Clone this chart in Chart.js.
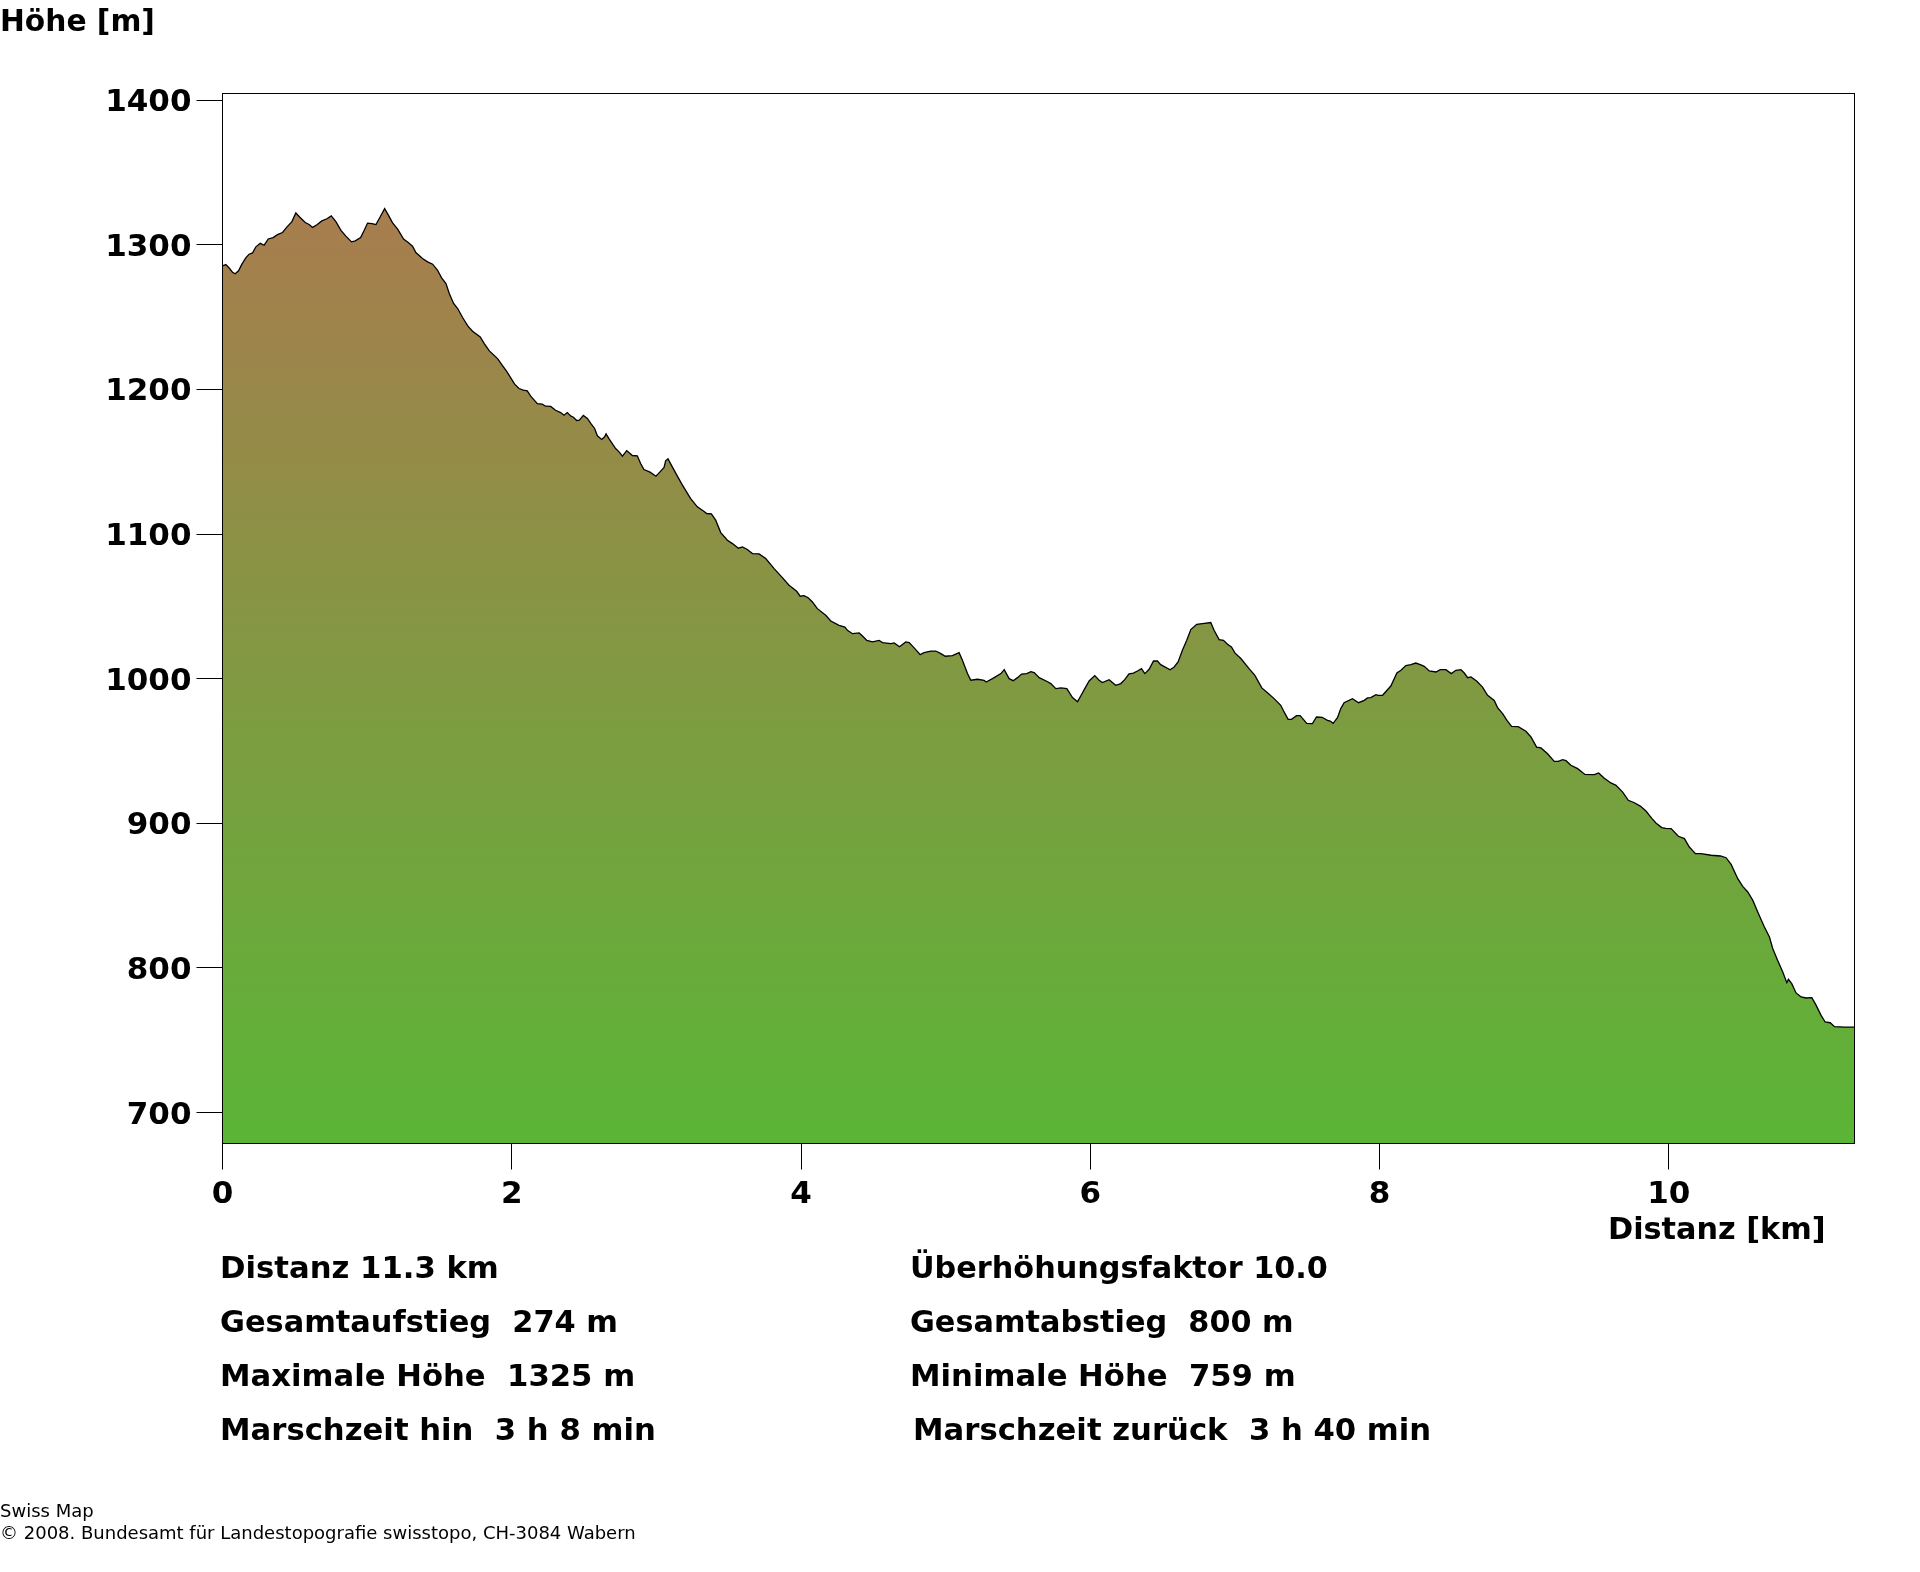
<!DOCTYPE html>
<html>
<head>
<meta charset="utf-8">
<script src="https://cdn.jsdelivr.net/npm/chart.js@4"></script>
<style>
body { margin: 0; background: #fff; }
#wrap { position: relative; width: 1920px; height: 1572px; overflow: hidden; }
#wrap canvas { position: absolute; left: 0; top: 0; }
.t { position: absolute; white-space: pre; color: #000; font-family: "DejaVu Sans", sans-serif; font-weight: bold; font-size: 30.7px; line-height: 36px; }
.klein { font-weight: normal; font-size: 18px; line-height: 22px; }
</style>
</head>
<body>
<div id="wrap">
<canvas id="profil" width="1920" height="1572"></canvas>
<div class="t" style="left:0;top:3px;font-size:29.7px">Höhe [m]</div>
<div class="t" style="left:1608px;top:1211px;font-size:30.3px">Distanz [km]</div>
<div class="t" style="left:220px;top:1250px">Distanz 11.3 km</div>
<div class="t" style="left:220px;top:1304px;font-size:30.4px">Gesamtaufstieg  274 m</div>
<div class="t" style="left:220px;top:1358px">Maximale Höhe  1325 m</div>
<div class="t" style="left:220px;top:1412px">Marschzeit hin  3 h 8 min</div>
<div class="t" style="left:910px;top:1250px;font-size:30.3px">Überhöhungsfaktor 10.0</div>
<div class="t" style="left:910px;top:1304px;font-size:30.3px">Gesamtabstieg  800 m</div>
<div class="t" style="left:910px;top:1358px">Minimale Höhe  759 m</div>
<div class="t" style="left:913px;top:1412px">Marschzeit zurück  3 h 40 min</div>
<div class="t klein" style="left:0;top:1500px">Swiss Map</div>
<div class="t klein" style="left:0;top:1522px">© 2008. Bundesamt für Landestopografie swisstopo, CH-3084 Wabern</div>
</div>
<script>
// Profile
const distanzKm = [
  0, .023, .046, .069, .088, .111, .134, .161, .184, .208,
  .231, .261, .288, .316, .35, .38, .415, .443, .48, .507,
  .535, .572, .599, .623, .653, .687, .722, .752, .784, .819,
  .853, .892, .918, .955, .98, 1.003, 1.033, 1.061, 1.088, 1.121,
  1.146, 1.176, 1.211, 1.252, 1.282, 1.314, 1.337, 1.383, 1.418, 1.453,
  1.487, 1.515, 1.545, 1.568, 1.598, 1.626, 1.66, 1.697, 1.729, 1.782,
  1.81, 1.845, 1.902, 1.937,
  1.964, 1.992, 2.02, 2.05, 2.08, 2.107, 2.131, 2.177, 2.211, 2.234,
  2.269, 2.303, 2.338, 2.361, 2.384, 2.407, 2.426, 2.449, 2.467, 2.495,
  2.523, 2.55, 2.573, 2.592, 2.622, 2.642, 2.652, 2.672, 2.718, 2.742,
  2.765, 2.795, 2.834, 2.868, 2.891, 2.914, 2.956, 2.997, 3.025, 3.053,
  3.064, 3.08, 3.11, 3.145, 3.18, 3.237, 3.283, 3.33, 3.348, 3.38,
  3.41, 3.445, 3.491, 3.526, 3.567, 3.595, 3.629, 3.664, 3.71, 3.756,
  3.814, 3.871, 3.917,
  3.97, 3.994, 4.021, 4.049, 4.079, 4.113, 4.171, 4.206, 4.263, 4.303,
  4.321, 4.356, 4.402, 4.432, 4.455, 4.494, 4.54, 4.563, 4.621, 4.644,
  4.681, 4.724, 4.748, 4.787, 4.824, 4.851, 4.897, 4.932, 4.967, 4.997,
  5.047, 5.093, 5.116, 5.151, 5.174, 5.22, 5.266, 5.28, 5.324, 5.382,
  5.405, 5.439, 5.467, 5.497, 5.525, 5.561, 5.589, 5.612, 5.647, 5.705,
  5.727, 5.762, 5.797, 5.838, 5.877, 5.912,
  5.934, 5.962, 5.992, 6.031, 6.061, 6.084, 6.13, 6.176, 6.211, 6.238,
  6.268, 6.298, 6.326, 6.354, 6.377, 6.407, 6.437, 6.464, 6.487, 6.552,
  6.58, 6.607, 6.637, 6.667, 6.695, 6.736, 6.776, 6.833, 6.856, 6.891,
  6.921, 6.949, 6.976, 7, 7.041, 7.098, 7.138, 7.186, 7.225, 7.271,
  7.317, 7.34, 7.368, 7.391, 7.426, 7.451, 7.497, 7.536, 7.564, 7.603,
  7.64, 7.659, 7.679, 7.709, 7.732, 7.755, 7.813, 7.855, 7.894, 7.917,
  7.94, 7.975, 7.991, 8.021, 8.078, 8.12, 8.148, 8.182, 8.217, 8.251,
  8.286, 8.309, 8.344, 8.39, 8.42, 8.459, 8.496, 8.528, 8.563, 8.586,
  8.609, 8.632, 8.673, 8.712, 8.747, 8.793, 8.816, 8.851, 8.881, 8.913,
  8.959, 9.012, 9.047, 9.086, 9.116, 9.162, 9.208, 9.236, 9.266, 9.289,
  9.323, 9.37, 9.42, 9.485, 9.515, 9.554, 9.6, 9.635, 9.681, 9.72,
  9.762, 9.803, 9.842, 9.884, 9.911, 9.951, 9.98, 10.016,
  10.066, 10.108, 10.142, 10.184, 10.223, 10.292, 10.357, 10.396, 10.431, 10.477,
  10.511, 10.546, 10.581, 10.615, 10.661, 10.696, 10.719, 10.753, 10.788, 10.816,
  10.827, 10.85, 10.88, 10.915, 10.949, 10.989, 11.019, 11.053, 11.081, 11.116,
  11.146, 11.215, 11.284
];
const hoeheM = [
  1285.4, 1286.3, 1284, 1281, 1280, 1282, 1286.6, 1291, 1293.5, 1294.4,
  1298.6, 1301, 1299.7, 1304, 1305, 1307, 1308.5, 1312, 1316, 1322,
  1319, 1315.4, 1314, 1312, 1313.8, 1316.5, 1318, 1320, 1316, 1310,
  1306, 1302, 1302.7, 1305, 1310, 1315, 1314.7, 1314, 1318.9, 1325,
  1320.7, 1315.2, 1310.8, 1303.9, 1301.8, 1299, 1294.6, 1290.5, 1288.2, 1286.6,
  1282.4, 1277.1, 1273.2, 1266.3, 1259.4, 1255.9, 1249.7, 1243.7, 1240.2, 1236.3,
  1231.7, 1226.6, 1221.3, 1216.3,
  1212.6, 1208.2, 1203.6, 1200.6, 1199.5, 1199, 1195.3, 1190.2, 1189.8, 1188.4,
  1188.2, 1185.6, 1184, 1182.2, 1184, 1181.7, 1180.8, 1178.5, 1178.7, 1182,
  1179.9, 1176, 1173, 1167.9, 1165.4, 1167.2, 1169.3, 1166, 1159.1, 1156.8,
  1153.8, 1157.7, 1154.3, 1154.1, 1148.8, 1144.6, 1142.8, 1140, 1143, 1146,
  1150.6, 1152, 1146.4, 1140, 1133.8, 1124.5, 1118.8, 1115.6, 1114.2, 1113.9,
  1109.6, 1101, 1095.7, 1093.4, 1090.2, 1091.1, 1089.3, 1086.5, 1086.3, 1083.1,
  1076.1, 1069.9, 1064.6,
  1060.4, 1057, 1057.4, 1056, 1053, 1048.4, 1043.8, 1039.9, 1036.9, 1035.7,
  1033.4, 1031.1, 1031.6, 1028.8, 1026.5, 1025.4, 1026.5, 1024.9, 1024.2, 1024.7,
  1022.1, 1025.4, 1024.9, 1020.8, 1016.6, 1018, 1019.1, 1019.1, 1017.3, 1015.5,
  1015.9, 1018, 1012.7, 1003.5, 998.9, 999.6, 998.9, 997.7, 1000, 1003.5,
  1006.2, 1000, 998.6, 1000.7, 1003.2, 1003.5, 1004.9, 1004.2, 1000.7, 997.9,
  996.6, 993.1, 993.6, 993.1, 986.9, 984.1,
  988, 993.1, 998.4, 1002.1, 998.9, 997.3, 999.3, 995.4, 996.6, 999.3,
  1003.3, 1003.9, 1005.3, 1006.9, 1003.5, 1006.5, 1012.2, 1012.2, 1009.7, 1006.2,
  1008.1, 1011.6, 1019.6, 1026.5, 1033.9, 1037.6, 1038.1, 1038.8, 1033.5, 1027,
  1026.5, 1023.8, 1021.9, 1017.8, 1013.9, 1006.9, 1002.3, 993.6, 990.3, 986.2,
  981.6, 977, 971.9, 971.9, 974.4, 974.4, 969.1, 968.9, 973.5, 973.3,
  971.2, 970.7, 969.1, 973, 979.3, 983.4, 986.2, 983.4, 985, 986.7,
  986.9, 988.9, 988.5, 988.5, 994.9, 1003.9, 1005.8, 1009, 1009.7, 1010.8,
  1009.5, 1008.5, 1005.3, 1004.6, 1006.2, 1006.2, 1003.5, 1005.8, 1006.2, 1003.9,
  1000.7, 1001.2, 998.2, 994.2, 988.5, 985, 980, 975.8, 971.2, 967,
  966.8, 963.6, 959.7, 952.7, 952.1, 948.1, 942.8, 942.8, 944, 943.3,
  940.1, 937.8, 933.8, 933.6, 934.8, 931.1, 927.9, 926.2, 921.6, 915.9,
  914.2, 911.9, 908.5, 903.2, 900.2, 897, 896.5, 896.3,
  891, 889.4, 883.6, 879, 879, 877.9, 877.4, 876.2, 871.6, 861.7,
  856.4, 852.5, 846.7, 838.7, 828.3, 821.4, 813.3, 805.2, 797.2, 789.8,
  792.1, 789.1, 782.7, 779.9, 779.2, 779.4, 774.1, 767.2, 762.6, 762.1,
  759.4, 759.1, 759
];
const distanzTicks = [0, 2, 4, 6, 8, 10];
const hoeheTicks = [700, 800, 900, 1000, 1100, 1200, 1300, 1400];

const farbeOben = '#a87d4e';
const farbeUnten = '#5ab536';
const tickFont = { family: 'DejaVu Sans', weight: 'bold', size: 31 };

// top and right edges of the frame are not axes, so draw the box by hand
const rahmen = {
  id: 'rahmen',
  afterDraw(chart) {
    const a = chart.chartArea, c = chart.ctx;
    c.save();
    c.strokeStyle = '#000';
    c.lineWidth = 1;
    c.strokeRect(a.left, a.top, a.right - a.left, a.bottom - a.top);
    c.restore();
  }
};

new Chart(document.getElementById('profil').getContext('2d'), {
  type: 'line',
  plugins: [rahmen],
  data: {
    datasets: [{
      label: 'Höhe',
      data: distanzKm.map((km, i) => ({ x: km, y: hoeheM[i] })),
      borderColor: '#000',
      borderWidth: 1.3,
      pointRadius: 0,
      tension: 0,
      fill: 'start',
      backgroundColor: (ctx) => {
        const a = ctx.chart.chartArea;
        if (!a) return farbeUnten;
        const yTop = ctx.chart.scales.y.getPixelForValue(1325);
        const g = ctx.chart.ctx.createLinearGradient(0, yTop, 0, a.bottom);
        g.addColorStop(0, farbeOben);
        g.addColorStop(1, farbeUnten);
        return g;
      }
    }]
  },
  options: {
    responsive: false,
    animation: false,
    devicePixelRatio: 1,
    layout: { padding: { top: 93.5, right: 65.5, left: 0, bottom: 0 } },
    plugins: { legend: { display: false }, tooltip: { enabled: false } },
    scales: {
      x: {
        type: 'linear',
        min: 0,
        max: 11.284,
        afterFit: (s) => { s.height = 428.5; },
        afterBuildTicks: (s) => { s.ticks = distanzTicks.map(v => ({ value: v })); },
        border: { display: false },
        grid: { drawOnChartArea: false, tickLength: 26, tickColor: '#000', tickWidth: 1 },
        ticks: { color: '#000', font: tickFont, maxRotation: 0, padding: 7, callback: v => String(v) }
      },
      y: {
        type: 'linear',
        min: 678.6,
        max: 1404.6,
        afterFit: (s) => { s.width = 222.5; },
        afterBuildTicks: (s) => { s.ticks = hoeheTicks.map(v => ({ value: v })); },
        border: { display: false },
        grid: { drawOnChartArea: false, tickLength: 26, tickColor: '#000', tickWidth: 1 },
        ticks: { color: '#000', font: tickFont, padding: 5, labelOffset: 3, callback: v => String(v) }
      }
    }
  }
});
</script>
</body>
</html>
